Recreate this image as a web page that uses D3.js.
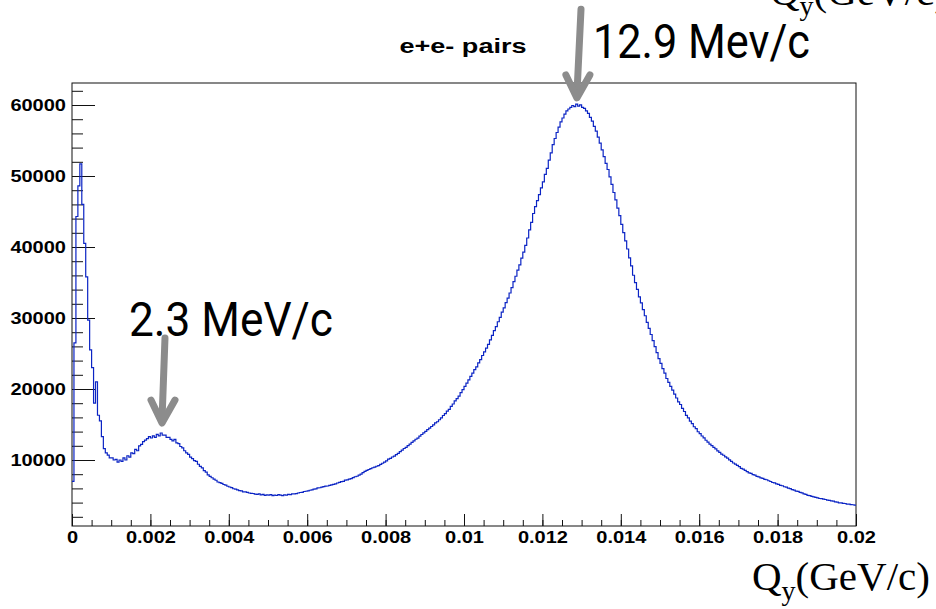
<!DOCTYPE html>
<html><head><meta charset="utf-8"><title>e+e- pairs Qy</title>
<style>
  body { margin: 0; background: #fff; }
  svg { display: block; }
  .tick text { font-family: "Liberation Sans", Arial, sans-serif; font-weight: bold; font-size: 16px; fill: #000; }
  .tick line { stroke: #111; }
</style>
</head>
<body>
<svg id="chart" width="936" height="609"></svg>
<script src="https://cdn.jsdelivr.net/npm/d3@7"></script>
<script>
// histogram: 400 bins of 0.00005 GeV/c from 0 to 0.02
const binStart = 0;
const binWidth = 0.00005;
const counts = [
  7000, 26500, 44300, 48600, 51700, 46000, 40500, 35800, 29700, 25500, 23000, 18000, 21000, 16300, 15500, 13300, 11600, 11000, 10700, 10300,
  10300, 10000, 10100, 9700, 10000, 9800, 10300, 10000, 10600, 10400, 11000, 10900, 11500, 11300, 12000, 12200, 12600, 12800, 13000, 13300,
  13100, 13400, 13200, 13600, 13400, 13800, 13500, 13500, 13200, 13200, 12900, 12700, 12900, 12400, 12300, 11900, 11700, 11300, 11000, 10800,
  10400, 10200, 9900, 9800, 9400, 9100, 8900, 8500, 8300, 7900, 7700, 7500, 7300, 7150, 6900, 6800, 6700, 6550, 6450, 6300,
  6200, 6100, 5950, 5900, 5780, 5700, 5650, 5520, 5500, 5430, 5350, 5300, 5280, 5180, 5150, 5220, 5080, 5150, 5030, 5100,
  5050, 5120, 4980, 5060, 5000, 5110, 5040, 4990, 5100, 5060, 5150, 5120, 5220, 5240, 5270, 5350, 5420, 5450, 5560, 5600,
  5660, 5740, 5800, 5910, 5940, 6060, 6090, 6170, 6240, 6310, 6340, 6420, 6490, 6570, 6640, 6760, 6840, 6960, 6990, 7160,
  7200, 7310, 7390, 7520, 7640, 7710, 7860, 8020, 8230, 8410, 8540, 8660, 8790, 8910, 8990, 9120, 9210, 9370, 9540, 9710,
  9890, 10110, 10240, 10420, 10540, 10770, 10940, 11170, 11380, 11620, 11790, 12020, 12240, 12470, 12690, 12920, 13080, 13370, 13590, 13820,
  14040, 14270, 14490, 14720, 14940, 15220, 15390, 15670, 15940, 16270, 16540, 16870, 17140, 17560, 17890, 18320, 18640, 19010, 19480, 19920,
  20380, 20820, 21280, 21770, 22240, 22720, 23130, 23670, 24140, 24720, 25230, 25770, 26280, 26920, 27540, 28220, 28780, 29470, 30090, 30820,
  31430, 32170, 32790, 33520, 34280, 35120, 35880, 36730, 37480, 38420, 39280, 40230, 41270, 42420, 43480, 44720, 45680, 46530, 47380, 48320,
  49180, 50230, 51080, 52230, 53270, 54420, 55280, 56130, 56880, 57620, 58170, 58730, 59180, 59440, 59680, 59930, 59760, 60120, 59850, 60010,
  59680, 59530, 59170, 58820, 58270, 57730, 56980, 56330, 55480, 54620, 53680, 52730, 51780, 50920, 49870, 48830, 47680, 46630, 45480, 44420,
  43180, 42030, 40870, 39720, 38480, 37330, 36020, 34980, 34030, 32970, 32130, 31180, 30320, 29380, 28530, 27680, 26820, 25980, 25130, 24280,
  23620, 22870, 22230, 21480, 20920, 20370, 19830, 19270, 18730, 18180, 17820, 17270, 16830, 16280, 15920, 15470, 15130, 14680, 14420, 13980,
  13720, 13380, 13120, 12780, 12530, 12230, 12020, 11780, 11570, 11280, 11070, 10830, 10670, 10430, 10270, 10030, 9820, 9580, 9420, 9230,
  9070, 8830, 8720, 8530, 8370, 8180, 8120, 7930, 7870, 7680, 7620, 7480, 7420, 7280, 7220, 7080, 6970, 6830, 6770, 6630,
  6570, 6430, 6370, 6230, 6170, 6030, 5970, 5830, 5770, 5630, 5570, 5430, 5370, 5230, 5170, 5030, 4970, 4880, 4820, 4730,
  4670, 4580, 4570, 4480, 4440, 4360, 4320, 4230, 4220, 4110, 4070, 3970, 3970, 3880, 3870, 3780, 3780, 3710, 3700, 3640
];

const xTicks = [0, 0.002, 0.004, 0.006, 0.008, 0.01, 0.012, 0.014, 0.016, 0.018, 0.02];
const xTickLabels = ["0", "0.002", "0.004", "0.006", "0.008", "0.01", "0.012", "0.014", "0.016", "0.018", "0.02"];
const yTicks = [10000, 20000, 30000, 40000, 50000, 60000];
const yTickLabels = ["10000", "20000", "30000", "40000", "50000", "60000"];

const title = "e+e- pairs";
// peak annotations, in data units
const notes = [
  { text: "12.9 Mev/c", tx: 0.01329, ty: 66620, len: 217, tipX: 0.01288, tipY: 61000, tailX: 0.012985, tailY: 73500 },
  { text: "2.3 MeV/c",  tx: 0.001454, ty: 27460, len: 204, tipX: 0.002296, tipY: 15200, tailX: 0.002372, tailY: 27180 }
];

const margin = {top: 83, right: 80, bottom: 83, left: 72};
const W = 936, H = 609;
const svg = d3.select("#chart");

const x = d3.scaleLinear().domain([0, 0.02]).range([margin.left, W - margin.right]);
const y = d3.scaleLinear().domain([704, 63100]).range([H - margin.bottom, margin.top]);

// minor ticks
svg.append("g")
  .attr("transform", `translate(0,${H - margin.bottom})`)
  .call(d3.axisBottom(x).tickValues(d3.range(0, 0.02001, 0.0005)).tickSizeInner(-6).tickSizeOuter(0).tickFormat(""));
svg.append("g")
  .attr("transform", `translate(${margin.left},0)`)
  .call(d3.axisLeft(y).tickValues(d3.range(2000, 62001, 2000)).tickSizeInner(-11).tickSizeOuter(0).tickFormat(""));

// major ticks + labels
const gx = svg.append("g")
  .attr("transform", `translate(0,${H - margin.bottom})`)
  .call(d3.axisBottom(x).tickValues(xTicks).tickFormat((d, i) => xTickLabels[i])
    .tickSizeInner(-12).tickSizeOuter(0).tickPadding(6));
const gy = svg.append("g")
  .attr("transform", `translate(${margin.left},0)`)
  .call(d3.axisLeft(y).tickValues(yTicks).tickFormat((d, i) => yTickLabels[i])
    .tickSizeInner(-23).tickSizeOuter(0).tickPadding(6));

svg.selectAll(".domain").remove();

// ROOT labels look wider than Arial bold, stretch them
svg.selectAll(".tick text").each(function() {
  const t = d3.select(this);
  if (!t.text()) return;
  t.attr("textLength", this.getComputedTextLength() * 1.25).attr("lengthAdjust", "spacingAndGlyphs");
});

// frame
svg.append("rect")
  .attr("x", margin.left).attr("y", margin.top)
  .attr("width", W - margin.left - margin.right).attr("height", H - margin.top - margin.bottom)
  .attr("fill", "none").attr("stroke", "#111").attr("stroke-width", 1);

// histogram steps
const pts = counts.map((c, i) => [binStart + i * binWidth, c]);
pts.push([binStart + counts.length * binWidth, counts[counts.length - 1]]);
const line = d3.line().x(d => x(d[0])).y(d => y(d[1])).curve(d3.curveStepAfter);
svg.append("path")
  .datum(pts)
  .attr("d", line)
  .attr("fill", "none")
  .attr("stroke", "#0b24c4")
  .attr("stroke-width", 1.2);

// title
svg.append("text")
  .attr("x", 463).attr("y", 53)
  .attr("text-anchor", "middle")
  .attr("font-family", "'Liberation Sans', Arial, sans-serif")
  .attr("font-weight", "bold").attr("font-size", 20)
  .attr("textLength", 127).attr("lengthAdjust", "spacingAndGlyphs")
  .text(title);

// arrows + peak labels
notes.forEach(n => {
  const g = svg.append("g").attr("stroke", "#8c8c8c").attr("stroke-width", 7)
    .attr("stroke-linecap", "round").attr("stroke-linejoin", "round").attr("fill", "none");
  const tx = x(n.tipX), ty = y(n.tipY);
  g.append("line").attr("x1", x(n.tailX)).attr("y1", y(n.tailY)).attr("x2", tx).attr("y2", ty - 3);
  g.append("path").attr("d", `M${tx - 11},${ty - 23}L${tx},${ty}L${tx + 13},${ty - 23}`);
  svg.append("text")
    .attr("x", x(n.tx)).attr("y", y(n.ty))
    .attr("font-family", "Roboto, 'Liberation Sans', sans-serif")
    .attr("font-size", 48)
    .attr("textLength", n.len).attr("lengthAdjust", "spacingAndGlyphs")
    .text(n.text);
});

// axis title (and the stray copy cut off at the top right)
function axisTitle(px, py) {
  const t = svg.append("text")
    .attr("x", px).attr("y", py)
    .attr("font-family", "'Liberation Serif', 'Times New Roman', serif")
    .attr("font-size", 41);
  t.append("tspan").text("Q");
  t.append("tspan").attr("font-size", 28).attr("dy", 10).text("y");
  t.append("tspan").attr("dy", -10).text("(GeV/c)");
}
axisTitle(752, 590);
axisTitle(770, 5);
</script>
</body>
</html>
